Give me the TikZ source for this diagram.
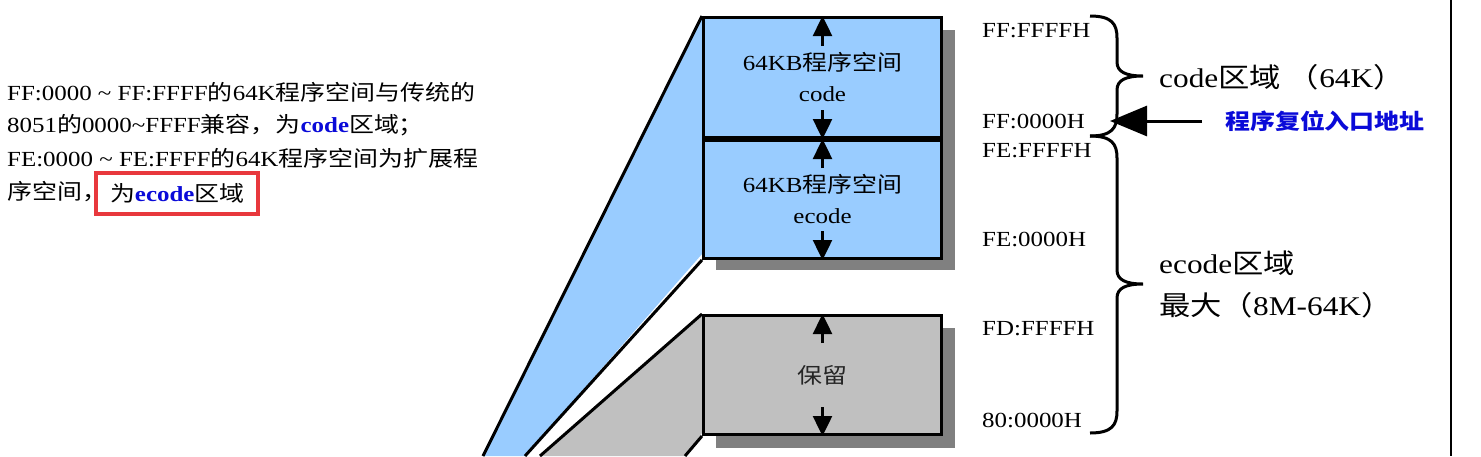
\documentclass[tikz,border=0pt]{standalone}
\usepackage{fontspec}
\setmainfont{Liberation Serif}[FakeStretch=1.16]
\newfontfamily\cjk{Noto Sans CJK SC}[FakeStretch=1.16]
\usetikzlibrary{arrows.meta,calc}
\definecolor{memblue}{HTML}{99CCFF}
\definecolor{memgray}{HTML}{C0C0C0}
\definecolor{shadowc}{HTML}{808080}
\definecolor{textblue}{HTML}{0A0AD8}
\definecolor{boxred}{HTML}{E8383D}
\begin{document}
\begin{tikzpicture}[x=1pt,y=-1pt,
  membox/.style={draw, line width=3pt, minimum width=238pt, anchor=north west,
    align=center, inner sep=0pt, font=\fontsize{21.5}{31}\selectfont},
  arr/.style={line width=2.5pt, -{Triangle[length=20pt,width=19pt]}},
  bigarr/.style={line width=3pt, -{Triangle[length=37pt,width=30pt]}},
  edge/.style={line width=3pt},
  bracec/.style={line width=3pt},
  small/.style={inner sep=0pt, font=\fontsize{21.5}{24}\selectfont},
  big/.style={inner sep=0pt, font=\fontsize{27}{42}\selectfont, align=left},
  lefttext/.style={inner sep=0pt, anchor=west, font=\fontsize{21.5}{24}\selectfont},
  addr/.style={small, anchor=west}
]
\useasboundingbox (0,0) rectangle (1481,456);

\coordinate (cpos) at (702,16);
\coordinate (rpos) at (702,314);

% shadows
\fill[shadowc] (716,30) rectangle (955,270);
\fill[shadowc] (716,328) rectangle (955,448);

% trapezoids
\coordinate (bl1) at (483,456);
\coordinate (bl2) at (525,456);
\coordinate (gl1) at (540,456);
\coordinate (gl2) at (685,456);
\fill[memblue] (702,16) -- (bl1) -- (bl2) -- (702,254) -- cycle;
\fill[memgray] (702,314) -- (gl1) -- (gl2) -- (702,433) -- cycle;

\node[membox, fill=memblue, minimum height=120pt] (code) at (cpos) {64KB{\cjk 程序空间}\\code};
\node[membox, fill=memblue, minimum height=118pt] (ecode) at (code.south west) {64KB{\cjk 程序空间}\\ecode};
\node[membox, fill=memgray, minimum height=119pt, text=black!85] (rsv) at (rpos) {{\cjk 保留}};

\draw[edge] (code.north west) -- (bl1);
\draw[edge] (ecode.south west) -- (bl2);
\draw[edge] (rsv.north west) -- (gl1);
\draw[edge] (rsv.south west) -- (gl2);

% arrows inside boxes
\draw[arr] ([yshift=-30pt]code.north) -- (code.north);
\draw[arr] ([yshift=29pt]code.south) -- (code.south);
\draw[arr] ([yshift=-29pt]ecode.north) -- (ecode.north);
\draw[arr] ([yshift=29pt]ecode.south) -- (ecode.south);
\draw[arr] ([yshift=-29pt]rsv.north) -- (rsv.north);
\draw[arr] ([yshift=29pt]rsv.south) -- (rsv.south);

% left description
\node[lefttext] (l1) at (7,92) {FF:0000 \textasciitilde\ FF:FFFF{\cjk 的}64K{\cjk 程序空间与传统的}};
\node[lefttext] (l2) at (7,125) {8051{\cjk 的}0000\textasciitilde FFFF{\cjk 兼容，为}\textbf{\color{textblue}code}{\cjk 区域；}};
\node[lefttext] (l3) at (7,158) {FE:0000 \textasciitilde\ FE:FFFF{\cjk 的}64K{\cjk 程序空间为扩展程}};
\node[lefttext] (l4) at (7,192) {{\cjk 序空间，}};
\node[lefttext, draw=boxred, line width=4pt, inner xsep=14pt, minimum height=41pt] (hl) at (94,193) {{\cjk 为}\textbf{\color{textblue}ecode}{\cjk 区域}};

% addresses
\node[addr] (a1) at (982,31) {FF:FFFFH};
\node[addr] (a2) at (982,121) {FF:0000H};
\node[addr] (a3) at (982,151) {FE:FFFFH};
\node[addr] (a4) at (982,239) {FE:0000H};
\node[addr] (a5) at (982,329) {FD:FFFFH};
\node[addr] (a6) at (982,420) {80:0000H};

% braces
\draw[bracec] (1090,16) .. controls (1112,16) and (1117,24) .. (1117,38) -- (1117,62)
  .. controls (1117,72) and (1126,76) .. (1143,76)
  .. controls (1126,76) and (1117,80) .. (1117,90) -- (1117,114)
  .. controls (1117,128) and (1112,136) .. (1090,136);
\draw[bracec] (1090,136) .. controls (1112,136) and (1117,144) .. (1117,158) -- (1117,270)
  .. controls (1117,280) and (1126,284) .. (1143,284)
  .. controls (1126,284) and (1117,288) .. (1117,298) -- (1117,411)
  .. controls (1117,425) and (1112,433) .. (1090,433);

% region labels
\node[big, anchor=west] (r1) at (1159,77) {code{\cjk 区域 （}64K{\cjk ）}};
\node[big, anchor=west] (r2) at (1159,284) {ecode{\cjk 区域}\\{\cjk 最大（}8M-64K{\cjk ）}};

% reset entry
\node[small, anchor=west, text=textblue] (reset) at (1225,121) {\cjk\bfseries 程序复位入口地址};
\coordinate (resettip) at (1110,121);
\draw[bigarr] ([xshift=-23pt]reset.west) -- (resettip);

% right border line
\coordinate (rt) at (1451,0);
\coordinate (rb) at (1451,456);
\draw[line width=2pt] (rt) -- (rb);
\end{tikzpicture}
\end{document}
